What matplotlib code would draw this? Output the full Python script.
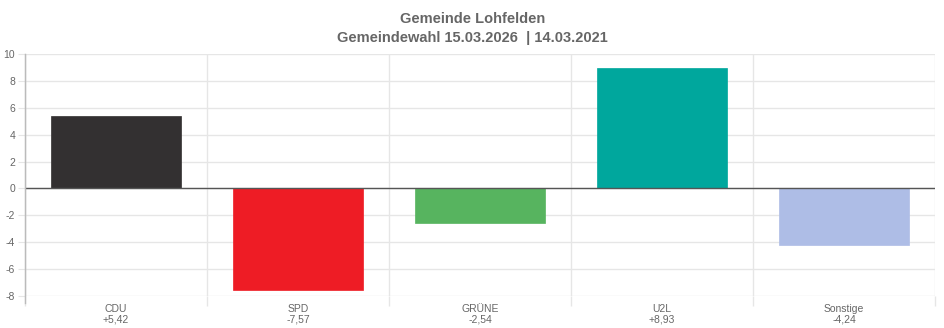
import matplotlib.pyplot as plt
import numpy as np

parteien = ['CDU', 'SPD', 'GRÜNE', 'U2L', 'Sonstige']
diff = [5.42, -7.57, -2.54, 8.93, -4.24]
diff_txt = ['+5,42', '-7,57', '-2,54', '+8,93', '-4,24']
farben = ['#333031', '#ee1c25', '#57b45f', '#00a79d', '#aebde6']
yticks = [-8, -6, -4, -2, 0, 2, 4, 6, 8, 10]

plt.rcParams['font.family'] = ['Liberation Sans', 'DejaVu Sans']

W, H = 945, 328
fig = plt.figure(figsize=(W / 100, H / 100), dpi=100)
ax = fig.add_axes([25 / W, (H - 296) / H, (935 - 25) / W, (296 - 54) / H])

x = np.arange(len(parteien))
ax.bar(x, diff, width=0.715, color=farben, edgecolor=farben, linewidth=0.5, zorder=3)

ax.set_xlim(-0.5, len(parteien) - 0.5)
ax.set_ylim(-8, 10)
ax.set_yticks(yticks)
ax.set_yticklabels([str(v) for v in yticks])

# Kategorie-Grenzen als Gitter
ax.set_xticks(np.arange(-0.5, len(parteien)), minor=False)
ax.set_xticklabels([''] * (len(parteien) + 1))
ax.set_xticks(x, minor=True)
ax.set_xticklabels([p + '\n' + t for p, t in zip(parteien, diff_txt)], minor=True)
ax.tick_params(axis='x', which='minor', length=0, pad=6, labelsize=7.5, labelcolor='#666666')
ax.tick_params(axis='x', which='major', length=7, color='#e6e6e6', width=1)
ax.tick_params(axis='y', length=5, color='#e6e6e6', labelsize=7.5, labelcolor='#666666', pad=2)
for t in ax.get_xticklabels(minor=True):
    t.set_linespacing(1.0)

ax.grid(True, which='major', color='#e6e6e6', linewidth=1, zorder=0)
ax.axhline(0, color='#555555', linewidth=1, zorder=4)

for s in ['top', 'right']:
    ax.spines[s].set_visible(False)
ax.spines['left'].set_color('#bbbbbb')
ax.spines['bottom'].set_visible(False)
ax.axvline(-0.5, color='#bbbbbb', linewidth=1, ymin=-0.03, ymax=1, clip_on=False, zorder=5)

fig.text(0.5, (H - 19) / H, 'Gemeinde Lohfelden', ha='center', va='center',
         fontsize=10.5, fontweight='bold', color='#666666')
fig.text(0.5, (H - 38) / H, 'Gemeindewahl 15.03.2026  | 14.03.2021', ha='center', va='center',
         fontsize=10.5, fontweight='bold', color='#666666')

fig.savefig('out.png', dpi=100)
